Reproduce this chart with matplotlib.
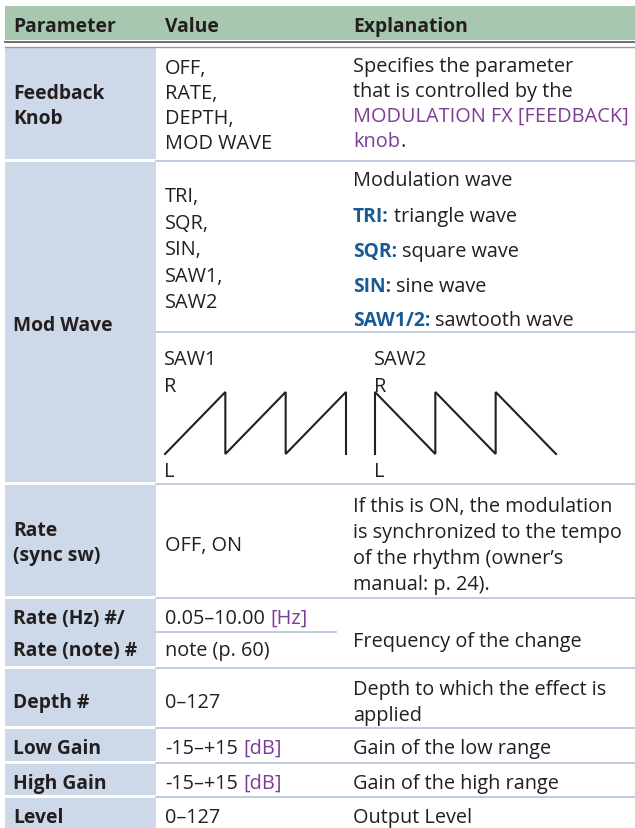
import matplotlib.pyplot as plt
from matplotlib.patches import Rectangle

plt.rcParams['font.family'] = ['Open Sans', 'DejaVu Sans']

# ---- table content ----
header = ["Parameter", "Value", "Explanation"]

param_lines = [
    ["Feedback", "Knob"],
    ["Mod Wave"],
    ["Rate", "(sync sw)"],
    ["Rate (Hz) #/"],
    ["Rate (note) #"],
    ["Depth #"],
    ["Low Gain"],
    ["High Gain"],
    ["Level"],
]

# value cells: list of lines, each line a list of (text, style)
value_lines = [
    [[("OFF,", "n")], [("RATE,", "n")], [("DEPTH,", "n")], [("MOD WAVE", "n")]],
    [[("TRI,", "n")], [("SQR,", "n")], [("SIN,", "n")], [("SAW1,", "n")], [("SAW2", "n")]],
    [[("OFF, ON", "n")]],
    [[("0.05–10.00", "n"), ("[Hz]", "p")]],
    [[("note (p. 60)", "n")]],
    [[("0–127", "n")]],
    [[("-15–+15", "n"), ("[dB]", "p")]],
    [[("-15–+15", "n"), ("[dB]", "p")]],
    [[("0–127", "n")]],
]

expl_lines = [
    [[("Specifies the parameter", "n")], [("that is controlled by the", "n")],
     [("MODULATION FX [FEEDBACK]", "p")], [("knob", "p"), (".", "n")]],
    [[("Modulation wave", "n")], [("TRI:", "b"), ("triangle wave", "n")],
     [("SQR:", "b"), ("square wave", "n")], [("SIN:", "b"), ("sine wave", "n")],
     [("SAW1/2:", "b"), ("sawtooth wave", "n")]],
    [[("If this is ON, the modulation", "n")], [("is synchronized to the tempo", "n")],
     [("of the rhythm (owner’s", "n")], [("manual: p. 24).", "n")]],
    [[("Frequency of the change", "n")]],
    [],
    [[("Depth to which the effect is", "n")], [("applied", "n")]],
    [[("Gain of the low range", "n")]],
    [[("Gain of the high range", "n")]],
    [[("Output Level", "n")]],
]

# sawtooth shapes (L = 0, R = 1)
saw1_t = [0, 1, 1, 2, 2, 3, 3]
saw1_v = [0, 1, 0, 1, 0, 1, 0]
saw2_t = [0, 0, 1, 1, 2, 2, 3]
saw2_v = [0, 1, 0, 1, 0, 1, 0]

# ---- layout (pixels) ----
W, H = 635, 829
FS = 14.3
FSB = 13.9
TXT = '#231f20'
PURPLE = '#7d3c96'
BLUE = '#1a5a94'
styles = {'n': TXT, 'p': PURPLE, 'b': BLUE}

x_par, x_val, x_exp = 13, 165, 353
par_right = 156

param_bands = [(49, 160), (163, 483), (486, 597), (600, 667), (670, 727),
               (730, 762), (765, 796), (799, 829)]
sep_y = [161.5, 333, 484.5, 598.5, 668.5, 728.5, 763.5, 797.5]

# baselines
par_base = [[99, 124], [331], [536, 561], [624], [656], [708], [754], [789], [823]]
val_base = [[74, 99, 124, 149], [202, 228.5, 255, 281.5, 308], [551], [624], [656],
            [708], [754], [789], [823]]
exp_base = [[72, 97, 122, 147], [186, 222, 257, 292, 326], [512, 538, 564, 590],
            [647], [], [695, 721], [754], [789], [823]]

fig = plt.figure(figsize=(W / 100, H / 100), dpi=100)
ax = fig.add_axes([0, 0, 1, 1])
ax.set_xlim(0, W)
ax.set_ylim(H, 0)
ax.axis('off')
renderer = fig.canvas.get_renderer()


def width(s, size, weight='normal'):
    t = ax.text(0, 0, s, fontsize=size, fontweight=weight)
    w = t.get_window_extent(renderer).width
    t.remove()
    return w


space_w = width("x x", FS) - width("xx", FS)
space_b = width("x x", FSB, 'bold') - width("xx", FSB, 'bold')


def rich(x, y, parts):
    for i, (s, st) in enumerate(parts):
        if st == 'b':
            t = ax.text(x, y, s, fontsize=FSB, color=styles[st], fontweight='bold',
                        va='baseline', ha='left')
        else:
            t = ax.text(x, y, s, fontsize=FS, color=styles[st],
                        va='baseline', ha='left')
        x += t.get_window_extent(renderer).width
        if i + 1 < len(parts) and not parts[i + 1][0].startswith('.'):
            x += space_b if st == 'b' else space_w


# header
ax.add_patch(Rectangle((5, 7), W - 5, 34, color='#a7c7b1', lw=0))
ax.plot([5, W], [42.5, 42.5], color='#6f6f6f', lw=1.4)
ax.plot([5, W], [48, 48], color='#9a9a9a', lw=1.0)
for x, s in zip([x_par, x_val, x_exp], header):
    ax.text(x, 31.5, s, fontsize=FSB, fontweight='bold', color=TXT, va='baseline')

# parameter column
for y0, y1 in param_bands:
    ax.add_patch(Rectangle((5, y0), par_right - 5, y1 - y0, color='#cdd8e9', lw=0))

# separators
for y in sep_y:
    ax.plot([par_right, W], [y, y], color='#b3c3dc', lw=1.2)
ax.plot([par_right, 336], [633, 633], color='#b3c3dc', lw=1.2)

for lines, bases in zip(param_lines, par_base):
    for s, y in zip(lines, bases):
        ax.text(x_par, y, s, fontsize=FSB, fontweight='bold', color=TXT, va='baseline')

for lines, bases in zip(value_lines, val_base):
    for parts, y in zip(lines, bases):
        rich(x_val, y, parts)

for lines, bases in zip(expl_lines, exp_base):
    for parts, y in zip(lines, bases):
        rich(x_exp, y, parts)

# sawtooth diagrams
for name, x0, tt, vv in [("SAW1", 165, saw1_t, saw1_v), ("SAW2", 375, saw2_t, saw2_v)]:
    ax.text(x0 - 1, 365, name, fontsize=FS, color=TXT, va='baseline')
    ax.text(x0 - 1, 392, "R", fontsize=FS, color=TXT, va='baseline')
    ax.text(x0 - 1, 477, "L", fontsize=FS, color=TXT, va='baseline')
    wax = fig.add_axes([x0 / W, (H - 455) / H, 181 / W, 62 / H])
    wax.plot(tt, vv, color=TXT, lw=1.5, solid_joinstyle='miter', clip_on=False)
    wax.set_xlim(0, 3)
    wax.set_ylim(0, 1)
    wax.axis('off')

fig.savefig('out.png', dpi=100)
